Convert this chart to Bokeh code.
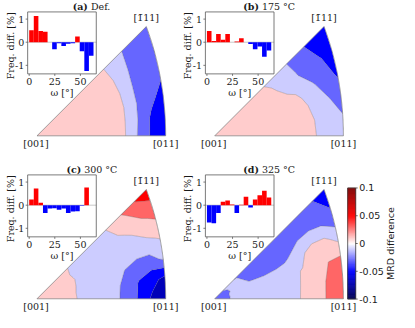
import numpy as np
from bokeh.plotting import figure
from bokeh.models import Range1d
from bokeh.core.properties import value
from bokeh.embed import file_html
from bokeh.resources import INLINE

# ------------------------------------------------------------------ data
# misorientation-angle histogram (14 bins over 0..62.8 deg)
omega_centers = [2.24, 6.73, 11.21, 15.70, 20.19, 24.67, 29.16,
                 33.64, 38.13, 42.61, 47.10, 51.59, 56.07, 60.56]
omega_width = 4.486
omega_ticks = [0, 25, 50]
omega_tick_labels = ["0", "25", "50"]
freq_ticks = [-1, 0, 1]
freq_tick_labels = ["-1", "0", "1"]

freq_def = [0.52, 1.13, 0.48, 0.45, 0.0, -0.30, -0.05, -0.16, -0.07, -0.04, 0.25, -0.39, -1.24, -0.59]
freq_175 = [0.48, 0.05, 0.36, 0.11, 0.36, 0.0, 0.03, 0.17, 0.0, -0.08, -0.30, -0.19, -0.63, -0.36]
freq_300 = [0.25, 0.72, 0.10, -0.34, -0.14, -0.13, -0.20, -0.14, -0.34, -0.27, -0.26, -0.03, 0.77, 0.0]
freq_325 = [-0.75, -0.78, -0.34, 0.15, 0.20, 0.03, -0.34, 0.02, 0.37, -0.10, 0.25, 0.43, 0.62, 0.33]

panel_tags = ["(a)", "(b)", "(c)", "(d)"]
panel_names = ["Def.", "175 °C", "300 °C", "325 °C"]
corner_labels = ["[001]", "[011]", "[1\u030411]"]

mrd_levels = [-0.1, -0.08, -0.06, -0.04, -0.02, 0.0, 0.02, 0.04, 0.06, 0.08, 0.1]
mrd_ticks = [-0.1, -0.05, 0.0, 0.05, 0.1]
mrd_tick_labels = ["-0.1", "-0.05", "0", "0.05", "0.1"]

# inverse-pole-figure sampling: rows = azimuth from the [001]-[011] edge (deg),
# columns = fraction of the way from [001] to the [011]-[-111] edge
ipf_azimuth = [0, 9, 18, 27, 36, 45]
ipf_radial = [0.0, 0.1, 0.2, 0.3, 0.4, 0.5, 0.6, 0.7, 0.8, 0.9, 1.0]

mrd_def = [
    [0.010, 0.0095, 0.009, 0.008, 0.007, 0.006, 0.004, -0.0005, -0.0250, -0.0445, -0.052],
    [0.010, 0.0095, 0.009, 0.008, 0.007, 0.006, 0.004, -0.0005, -0.0229, -0.0443, -0.050],
    [0.010, 0.0095, 0.009, 0.008, 0.007, 0.006, 0.004, -0.0005, -0.0222, -0.0347, -0.048],
    [0.010, 0.0095, 0.009, 0.008, 0.007, 0.006, 0.004, -0.0013, -0.0247, -0.0320, -0.036],
    [0.010, 0.0095, 0.009, 0.008, 0.007, 0.006, 0.004, -0.0040, -0.0251, -0.0310, -0.034],
    [0.010, 0.0095, 0.009, 0.0075, 0.006, 0.004, 0.001, -0.0090, -0.0237, -0.0310, -0.034],
]
mrd_175 = [
    [0.010, 0.0095, 0.009, 0.0085, 0.008, 0.007, 0.005, 0.003, -0.0003, -0.0060, -0.0100],
    [0.010, 0.0095, 0.009, 0.0085, 0.008, 0.007, 0.005, 0.003, -0.00075, -0.0100, -0.0190],
    [0.010, 0.0095, 0.009, 0.0085, 0.008, 0.007, 0.005, 0.003, -0.0045, -0.0185, -0.0300],
    [0.010, 0.0095, 0.009, 0.0085, 0.008, 0.006, 0.003, -0.002, -0.0175, -0.0300, -0.0425],
    [0.010, 0.0095, 0.009, 0.0075, 0.006, 0.003, -0.007, -0.0189, -0.0299, -0.0390, -0.0490],
    [0.010, 0.009, 0.008, 0.006, 0.004, -0.004, -0.0146, -0.0242, -0.0380, -0.0505, -0.0550],
]
mrd_300 = [
    [0.0185, 0.0126, 0.0067, 0.0007, -0.0053, -0.0114, -0.0174, -0.0233, -0.0442, -0.0642, -0.0720],
    [0.0185, 0.0123, 0.0061, 0.0003, -0.0055, -0.0113, -0.0171, -0.0229, -0.0421, -0.0538, -0.0662],
    [0.0185, 0.0121, 0.0057, 0.0005, -0.0047, -0.0099, -0.0151, -0.0203, -0.0270, -0.0290, -0.0161],
    [0.0185, 0.0123, 0.0060, 0.0005, -0.0050, -0.0100, -0.0130, -0.0130, -0.0100, -0.0050, 0.0021],
    [0.0185, 0.0113, 0.0040, -0.0010, -0.0060, -0.0080, -0.0070, -0.0030, 0.0034, 0.0155, 0.0257],
    [0.0185, 0.0113, 0.0040, -0.0010, -0.0060, -0.0070, -0.0040, 0.0103, 0.0246, 0.0417, 0.0520],
]
mrd_325 = [
    [-0.025, -0.0207, -0.0170, -0.0134, -0.0097, -0.0061, -0.0024, 0.0012, 0.0135, 0.0237, 0.030],
    [-0.025, -0.0207, -0.0170, -0.0134, -0.0097, -0.0061, -0.0024, 0.0010, 0.0131, 0.0233, 0.032],
    [-0.025, -0.0205, -0.0170, -0.0135, -0.0099, -0.0064, -0.0028, 0.0007, 0.0109, 0.0199, 0.023],
    [-0.025, -0.0205, -0.0185, -0.0204, -0.0230, -0.0225, -0.0189, -0.0042, 0.0078, 0.0070, -0.0079],
    [-0.025, -0.0202, -0.0175, -0.0258, -0.0280, -0.0270, -0.0250, -0.0220, -0.0205, -0.0260, -0.037],
    [-0.025, -0.0185, -0.0205, -0.0270, -0.0300, -0.0310, -0.0320, -0.0330, -0.0350, -0.0408, -0.050],
]

freq_sets = [freq_def, freq_175, freq_300, freq_325]
mrd_sets = [mrd_def, mrd_175, mrd_300, mrd_325]

# ------------------------------------------------------------------ layout / style
PAGE_W, PAGE_H = 399, 312
S = 0.953                      # reference px -> page px
K = 176.4 * S                  # page px per projection unit
PANEL_OFF = [(0.0, 0.0), (186.5, 0.0), (0.0, 171.0), (186.5, 171.0)]
VERTEX = (38.3, 142.0)         # [001] corner inside a panel (reference px)
INSET_FRAME = (28.5, 12.0, 72.0, 65.0)
TITLE_POS = (95.5, 6.0)
CBAR_FRAME = (364.3, 196.7, 8.4, 116.6)
OMEGA_LIM = (-1.5, 65.5)
FREQ_LIM = (-1.37, 1.31)

FS_PX = 9.5
FS = "9.5px"
SERIF = "DejaVu Serif"
SANS = "DejaVu Sans"
TXT = "#1a1a1a"
FRAME_COL = "#595959"
TAG_EM, GAP_EM = 1.6, 0.32
NAME_EM = [2.05, 3.46, 3.46, 3.46]

_SEISMIC = [(0.0, (0.0, 0.0, 0.3)), (0.25, (0.0, 0.0, 1.0)), (0.5, (1.0, 1.0, 1.0)),
            (0.75, (1.0, 0.0, 0.0)), (1.0, (0.5, 0.0, 0.0))]


def seismic(f):
    f = min(max(f, 0.0), 1.0)
    for (a, ca), (b, cb) in zip(_SEISMIC[:-1], _SEISMIC[1:]):
        if f <= b:
            w = (f - a) / (b - a)
            c = [ca[n] + w * (cb[n] - ca[n]) for n in range(3)]
            return "#%02x%02x%02x" % tuple(int(round(255 * v)) for v in c)
    return "#800000"


def norm_mrd(v):
    return (v - mrd_levels[0]) / (mrd_levels[-1] - mrd_levels[0])


band_colors = [seismic(norm_mrd((lo + hi) / 2)) for lo, hi in zip(mrd_levels[:-1], mrd_levels[1:])]


def ipf_xy(az_deg, frac):
    az = np.radians(np.asarray(az_deg, dtype=float))
    tmax = np.arctan(1.0 / np.cos(az))
    rmax = 2.0 * np.sin(tmax / 2.0)          # equal-area projection
    r = np.asarray(frac, dtype=float) * rmax
    return r * np.cos(az), r * np.sin(az)


AZ, FR = np.meshgrid(ipf_azimuth, ipf_radial, indexing="ij")
GX, GY = ipf_xy(AZ, FR)


def range_x(d0, d1, p0, p1):
    m = (d1 - d0) / (p1 - p0)
    return Range1d(start=d0 - p0 * m, end=d0 + (PAGE_W - p0) * m)


def range_y(d0, d1, p0, p1):
    # p measured downward from the top of the page area
    m = (d1 - d0) / (p1 - p0)
    return Range1d(start=d0 + (PAGE_H - p0) * m, end=d0 - p0 * m)


p = figure(width=PAGE_W, height=PAGE_H, x_range=Range1d(0, PAGE_W), y_range=Range1d(PAGE_H, 0),
           output_backend="svg", toolbar_location=None, min_border=0,
           x_axis_location=None, y_axis_location=None, outline_line_color=None,
           background_fill_color="white", border_fill_color="white")
p.xgrid.visible = False
p.ygrid.visible = False

xr, yr = {}, {}
for i, (ox, oy) in enumerate(PANEL_OFF):
    vx, vy = (ox + VERTEX[0]) * S, (oy + VERTEX[1]) * S
    xr[f"t{i}"] = range_x(0.0, 1.0, vx, vx + K)
    yr[f"t{i}"] = range_y(0.0, 1.0, vy, vy - K)
    fl, ft = (ox + INSET_FRAME[0]) * S, (oy + INSET_FRAME[1]) * S
    fw, fh = INSET_FRAME[2] * S, INSET_FRAME[3] * S
    xr[f"i{i}"] = range_x(OMEGA_LIM[0], OMEGA_LIM[1], fl, fl + fw)
    yr[f"i{i}"] = range_y(FREQ_LIM[1], FREQ_LIM[0], ft, ft + fh)
bl, bt = CBAR_FRAME[0] * S, CBAR_FRAME[1] * S
bw, bh = CBAR_FRAME[2] * S, CBAR_FRAME[3] * S
xr["cb"] = range_x(0.0, 1.0, bl, bl + bw)
yr["cb"] = range_y(mrd_levels[-1], mrd_levels[0], bt, bt + bh)
p.extra_x_ranges = xr
p.extra_y_ranges = yr

serif_kw = dict(text_font=value(SERIF), text_font_size=FS, text_color=TXT)
sans_kw = dict(text_font=value(SANS), text_font_size=FS, text_color=TXT)

# ---------------------------------------------------------------- IPF triangles
arc_az = np.linspace(0.0, 45.0, 91)
arc_x, arc_y = ipf_xy(arc_az, 1.0)
x011, _ = ipf_xy(0.0, 1.0)
x111, y111 = ipf_xy(45.0, 1.0)
for i in range(4):
    rn = dict(x_range_name=f"t{i}", y_range_name=f"t{i}")
    cr = p.contour(x=GX, y=GY, z=np.array(mrd_sets[i]), levels=mrd_levels,
                   fill_color=band_colors, line_color="#505050", line_alpha=0.55, line_width=0.5)
    for r in (cr, cr.fill_renderer, cr.line_renderer):
        r.x_range_name = f"t{i}"
        r.y_range_name = f"t{i}"
    p.line(np.r_[0.0, arc_x, 0.0], np.r_[0.0, arc_y, 0.0], line_color="#7a7a7a", line_width=0.7, **rn)
    p.text(x=[0.0, float(x011), float(x111)], y=[0.0, 0.0, float(y111)], text=corner_labels,
           x_offset=[-1.0, 0.0, 0.0], y_offset=[7.3, 7.3, -8.9],
           text_align="center", text_baseline="middle", **serif_kw, **rn)

    # panel title: bold tag + normal name
    ox, oy = PANEL_OFF[i]
    cx, cy = (ox + TITLE_POS[0]) * S, (oy + TITLE_POS[1]) * S
    tot = (TAG_EM + GAP_EM + NAME_EM[i]) * FS_PX
    split = cx - tot / 2 + TAG_EM * FS_PX
    p.text(x=[split], y=[cy], text=[panel_tags[i]], text_font_style="bold",
           text_align="right", text_baseline="middle", **serif_kw)
    p.text(x=[split + GAP_EM * FS_PX], y=[cy], text=[panel_names[i]],
           text_align="left", text_baseline="middle", **serif_kw)

# ---------------------------------------------------------------- histogram insets
for i in range(4):
    rn = dict(x_range_name=f"i{i}", y_range_name=f"i{i}")
    fw, fh = INSET_FRAME[2] * S, INSET_FRAME[3] * S
    dx_px = (OMEGA_LIM[1] - OMEGA_LIM[0]) / fw
    dy_px = (FREQ_LIM[1] - FREQ_LIM[0]) / fh
    p.quad(left=[OMEGA_LIM[0]], right=[OMEGA_LIM[1]], bottom=[FREQ_LIM[0]], top=[FREQ_LIM[1]],
           fill_color="white", line_color=None, **rn)
    p.segment(x0=[OMEGA_LIM[0]], x1=[OMEGA_LIM[1]], y0=[0], y1=[0], line_color="#c8c8c8", line_width=1, **rn)
    freqs = freq_sets[i]
    p.vbar(x=omega_centers, width=omega_width, bottom=0, top=freqs,
           fill_color=["#ff0000" if v >= 0 else "#0000ff" for v in freqs], line_color=None, **rn)
    p.quad(left=[OMEGA_LIM[0]], right=[OMEGA_LIM[1]], bottom=[FREQ_LIM[0]], top=[FREQ_LIM[1]],
           fill_color=None, line_color=FRAME_COL, line_width=0.8, **rn)
    # ticks
    p.segment(x0=omega_ticks, x1=omega_ticks, y0=[FREQ_LIM[0]] * 3, y1=[FREQ_LIM[0] - 2 * dy_px] * 3,
              line_color=FRAME_COL, line_width=0.8, **rn)
    p.segment(x0=[OMEGA_LIM[0]] * 3, x1=[OMEGA_LIM[0] - 2 * dx_px] * 3, y0=freq_ticks, y1=freq_ticks,
              line_color=FRAME_COL, line_width=0.8, **rn)
    p.text(x=omega_ticks, y=[FREQ_LIM[0]] * 3, text=omega_tick_labels, y_offset=8.0,
           text_align="center", text_baseline="middle", **serif_kw, **rn)
    p.text(x=[OMEGA_LIM[0]] * 3, y=freq_ticks, text=freq_tick_labels, x_offset=-3.4,
           text_align="right", text_baseline="middle", **serif_kw, **rn)
    # axis labels
    p.text(x=[sum(OMEGA_LIM) / 2], y=[FREQ_LIM[0]], text=["ω [°]"], y_offset=19.0,
           text_align="center", text_baseline="middle", **serif_kw, **rn)
    p.text(x=[OMEGA_LIM[0]], y=[sum(FREQ_LIM) / 2], text=["Freq. diff. [%]"], x_offset=-17.4, y_offset=2.9,
           angle=np.pi / 2, text_align="center", text_baseline="middle", **serif_kw, **rn)

# ---------------------------------------------------------------- colour bar
rn = dict(x_range_name="cb", y_range_name="cb")
edges = np.linspace(mrd_levels[0], mrd_levels[-1], 201)
cb_cols = [seismic(norm_mrd((a + b) / 2)) for a, b in zip(edges[:-1], edges[1:])]
p.quad(left=0, right=1, bottom=edges[:-1], top=edges[1:], fill_color=cb_cols,
       line_color=cb_cols, line_width=0.4, **rn)
p.quad(left=[0], right=[1], bottom=[mrd_levels[0]], top=[mrd_levels[-1]], fill_color=None,
       line_color="#404040", line_width=0.8, **rn)
p.segment(x0=[1] * 5, x1=[1 + 2.0 / bw] * 5, y0=mrd_ticks, y1=mrd_ticks, line_color="#404040",
          line_width=0.8, **rn)
p.text(x=[1] * 5, y=mrd_ticks, text=mrd_tick_labels, x_offset=3.5, text_align="left",
       text_baseline="middle", **sans_kw, **rn)
p.text(x=[1], y=[0.0], text=["MRD difference"], x_offset=35.3, angle=np.pi / 2,
       text_align="center", text_baseline="middle", **sans_kw, **rn)

with open("out.html", "w") as f:
    f.write(file_html(p, INLINE, title="MRD difference"))
